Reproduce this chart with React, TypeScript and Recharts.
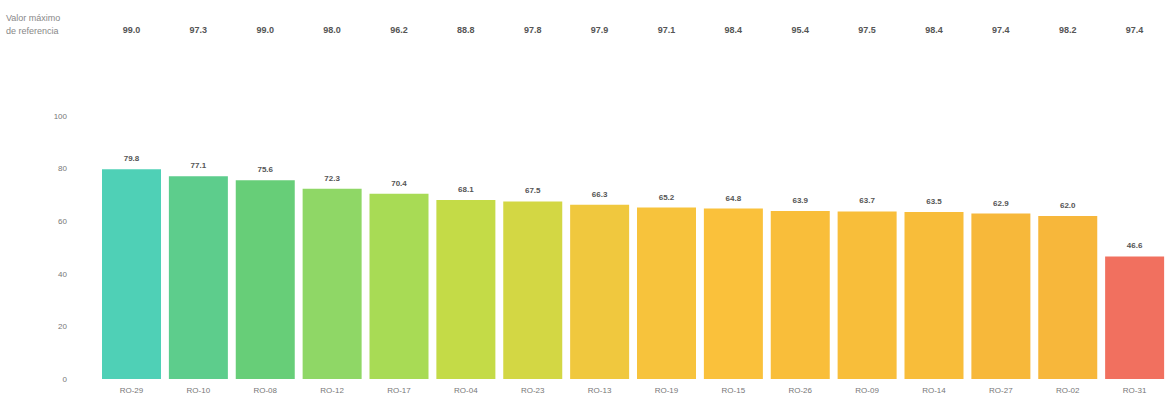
import React from 'react';
import { BarChart, Bar, XAxis, YAxis, Cell, LabelList } from 'recharts';

const stations = ['RO-29', 'RO-10', 'RO-08', 'RO-12', 'RO-17', 'RO-04', 'RO-23', 'RO-13', 'RO-19', 'RO-15', 'RO-26', 'RO-09', 'RO-14', 'RO-27', 'RO-02', 'RO-31'];
const scores = [79.8, 77.1, 75.6, 72.3, 70.4, 68.1, 67.5, 66.3, 65.2, 64.8, 63.9, 63.7, 63.5, 62.9, 62.0, 46.6];
const refMax = [99.0, 97.3, 99.0, 98.0, 96.2, 88.8, 97.8, 97.9, 97.1, 98.4, 95.4, 97.5, 98.4, 97.4, 98.2, 97.4];
const yTicks = [0, 20, 40, 60, 80, 100];

const BAR_COLORS = [
  '#4fd0b6', '#5dcd8c', '#67ce78', '#8fd766', '#a8db55', '#c4db47', '#d3d744', '#f0c83e',
  '#f7c33c', '#fac13b', '#f9be3a', '#f8be3a', '#f8bd3a', '#f7b83a', '#f7b73b', '#f1705f',
];

const FONT = '"Liberation Sans", Arial, sans-serif';

const data = stations.map((name, i) => ({ name, score: scores[i], maxRef: refMax[i] }));

// valores de referencia en la fila superior
const RefTick = ({ x, payload, index }: any) => {
  const i = typeof index === 'number' ? index : payload?.index ?? 0;
  return (
    <text x={x} y={33} textAnchor="middle" fontSize={9} fontWeight={600} fill="#555" fontFamily={FONT}>
      {refMax[i].toFixed(1)}
    </text>
  );
};

export default function App() {
  return (
    <div style={{ position: 'absolute', left: 0, top: 0, width: 1168, height: 400, background: '#fff', fontFamily: FONT }}>
      <div style={{ position: 'absolute', left: 6, top: 12, fontSize: 9, lineHeight: '13px', color: '#888' }}>
        Valor máximo<br />de referencia
      </div>
      <BarChart
        width={1168}
        height={400}
        data={data}
        margin={{ top: 0, right: 0, left: 0, bottom: 0 }}
        barCategoryGap={4}
      >
        <XAxis
          xAxisId="top"
          orientation="top"
          dataKey="name"
          height={116}
          axisLine={false}
          tickLine={false}
          interval={0}
          tick={(props: any) => <RefTick {...props} />}
        />
        <XAxis
          dataKey="name"
          height={21}
          axisLine={false}
          tickLine={false}
          tickSize={0}
          tickMargin={8}
          interval={0}
          tick={{ fontSize: 8, fill: '#777', fontFamily: FONT }}
        />
        <YAxis
          width={98}
          domain={[0, 100]}
          ticks={yTicks}
          axisLine={false}
          tickLine={false}
          tickSize={0}
          tickMargin={31}
          tick={{ fontSize: 8, fill: '#777', fontFamily: FONT }}
        />
        <Bar dataKey="score" barSize={59} isAnimationActive={false}>
          {data.map((d, i) => (
            <Cell key={d.name} fill={BAR_COLORS[i]} />
          ))}
          <LabelList
            dataKey="score"
            position="top"
            offset={8}
            formatter={(v: any) => Number(v).toFixed(1)}
            style={{ fontSize: 8, fill: '#555', fontWeight: 600, fontFamily: FONT }}
          />
        </Bar>
      </BarChart>
    </div>
  );
}
